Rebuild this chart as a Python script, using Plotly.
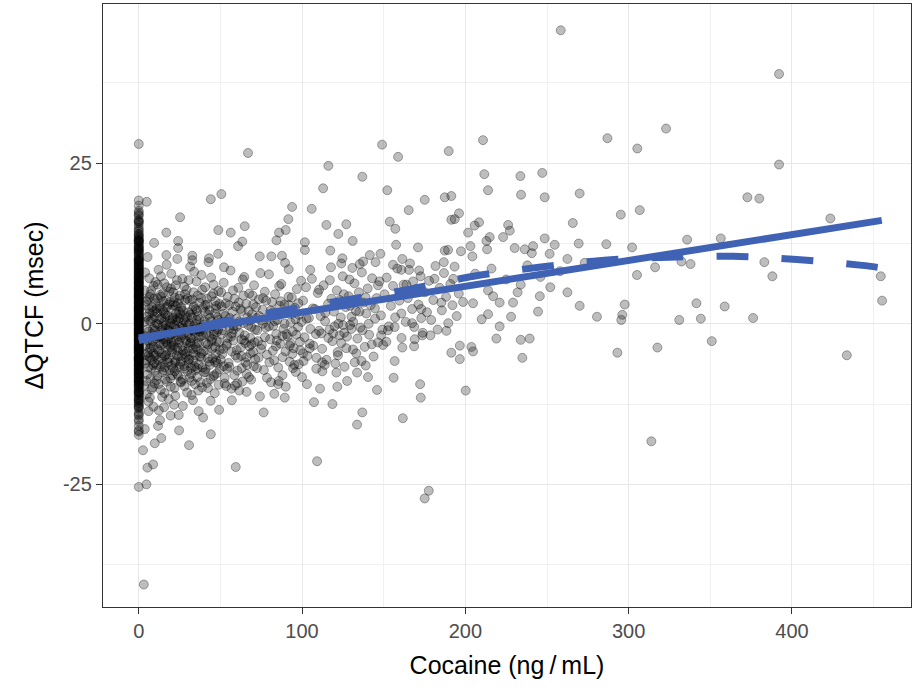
import plotly.graph_objects as go

# ---------------- data ----------------
# subjects with cocaine = 0 ng/mL : ΔQTCF values
zero_cocaine_dqtcf = [
    -17.3, -16.6, -15.9, -15.2, -14.9, -14.3, -13.8, -13.2, -12.9, -12.4, -12.0, -11.6, -11.1, -10.7,
    -10.3, -9.9, -9.6, -9.2, -8.8, -8.5, -8.1, -7.8, -7.4, -7.1, -6.7, -6.4, -6.0, -5.7, -5.3, -5.0,
    -4.6, -4.3, -3.9, -3.6, -3.2, -2.9, -2.5, -2.2, -1.8, -1.5, -1.1, -0.8, -0.4, -0.1, 0.3, 0.6,
    1.0, 1.3, 1.7, 2.0, 2.4, 2.7, 3.1, 3.4, 3.8, 4.1, 4.5, 4.8, 5.2, 5.5, 5.9, 6.2, 6.6, 6.9, 7.3,
    7.7, 8.1, 8.5, 8.9, 9.3, 9.8, 10.2, 10.7, 11.1, 11.6, 12.1, 12.7, 13.3, 13.9, 14.6, 15.3, 16.0,
    16.8, 17.6, 18.4,
    -14.1, -11.9, -10.1, -8.7, -7.6, -6.5, -5.5, -4.7, -3.8, -3.0, -2.3, -1.6, -0.9, -0.2, 0.5, 1.1,
    1.8, 2.5, 3.3, 4.0, 4.7, 5.6, 6.4, 7.2, 8.0, 9.0, 10.0, 11.2, 12.5, 14.0,
    -9.0, -6.9, -5.2, -3.5, -1.9, -0.6, 0.8, 2.2, 3.6, 5.0, 6.7, 8.6,
    -13.0, -12.3, -11.4, -10.5, -9.8, -9.1, -8.3, -7.7, -7.0, -6.3, -5.8, -5.1, -4.5, -3.9, -3.3,
    -2.7, -2.0, -1.4, -0.7, 0.0, 0.7, 1.4, 2.1, 2.9, 3.5, 4.3, 5.0, 5.8, 6.5, 7.4, 8.2, 9.1, 9.9,
    10.9, 11.8, 12.8, 13.7, 14.9, 16.2, 17.0,
    -12.7, -11.0, -9.4, -8.0, -6.6, -5.3, -4.1, -2.8, -1.2, 0.1, 1.5, 2.8, 4.2, 5.6, 7.0, 8.4, 9.6,
    11.5, 13.1, 15.7,
    -11.8, -10.8, -9.5, -8.4, -7.3, -6.2, -5.4, -4.4, -3.4, -2.4, -1.3, -0.3, 0.4, 1.2, 2.3, 3.2,
    4.4, 5.3, 6.3, 7.6, 8.8, 10.1, 11.4, 12.9, 14.4, 15.9, 17.3,
    -10.6, -8.9, -7.2, -5.6, -4.2, -2.6, -1.0, 0.9, 2.6, 4.6, 6.0, 7.9, 9.4, 10.5, 12.2, 13.5,
    -7.9, -5.9, -3.7, -1.7, 0.2, 1.9, 3.9, 5.4, 7.1, 9.7, 11.9, 13.0,
    28.0, 19.2, -16.8, -25.4,
]

# individually readable points (cocaine ng/mL, ΔQTCF msec)
sparse_points = [
    (66.9, 26.6), (116.1, 24.6), (136.9, 22.9), (112.9, 21.1), (50.6, 20.2), (44.1, 19.4),
    (4.9, 19.0), (93.9, 18.2), (105.9, 17.9), (25.3, 16.6), (16.9, 14.2), (48.7, 14.6), (56.3, 14.2),
    (64.9, 15.2), (114.9, 15.4), (127.1, 15.5), (122.2, 14.0), (131.0, 12.9), (91.6, 16.3), (90.0, 14.6),
    (85.9, 14.2), (84.3, 13.0), (24.1, 12.9), (24.1, 11.8), (9.4, 12.6), (63.4, 12.8), (60.8, 12.1),
    (101.7, 12.7), (101.7, 11.5), (117.3, 11.4), (48.6, 10.9), (16.9, 10.7), (32.8, 10.6), (32.8, 9.9),
    (43.0, 10.2), (23.6, 10.1), (74.1, 10.5), (81.2, 10.5), (87.7, 10.6), (89.6, 9.5), (124.7, 10.2),
    (137.4, 9.7), (135.3, 9.3), (141.5, 10.7), (52.2, 8.8), (130.8, 8.7),
    (258.4, 45.7), (149.0, 27.9), (158.8, 26.0), (189.8, 26.9), (210.8, 28.6), (287.0, 28.9),
    (305.3, 27.3), (211.6, 23.3), (233.7, 23.0), (247.1, 23.5), (152.2, 20.8), (213.9, 20.8),
    (234.1, 20.1), (248.6, 19.7), (270.0, 20.3), (175.1, 19.3), (187.4, 19.7), (191.4, 19.9),
    (165.3, 17.7), (153.7, 15.9), (157.1, 14.8), (196.1, 17.2), (193.5, 16.3), (191.4, 16.2),
    (295.2, 17.0), (306.8, 17.7), (265.8, 15.7), (208.4, 15.8), (205.7, 15.3), (201.7, 14.2),
    (226.2, 15.4), (227.2, 14.5), (223.1, 13.5), (214.9, 13.5), (212.9, 12.9), (213.3, 11.6),
    (157.6, 12.3), (171.0, 11.9), (187.4, 11.4), (189.4, 11.5), (203.1, 12.1), (204.3, 10.5),
    (230.2, 11.8), (236.4, 11.6), (241.5, 12.1), (240.7, 11.0), (248.6, 13.3), (254.7, 12.3),
    (251.6, 10.9), (269.4, 12.5), (286.3, 12.4), (302.1, 11.9), (262.5, 10.1), (273.1, 9.5),
    (305.1, 7.6), (186.8, 9.6), (181.1, 7.0), (192.6, 7.0), (171.7, 8.3), (161.4, 10.1), (165.5, 8.4),
    (160.8, 8.4), (155.7, 9.2), (148.0, 10.9), (245.6, 4.3), (262.5, 4.9), (233.9, 6.1), (213.9, 5.2),
    (217.0, 4.3), (297.6, 3.0), (270.0, 2.8), (229.2, 3.3), (221.0, 3.3), (204.7, 3.2), (185.3, 3.3),
    (163.9, 6.1), (168.0, 6.6),
    (392.1, 38.9), (322.9, 30.4), (392.1, 24.8), (372.7, 19.7), (380.0, 19.5), (423.5, 16.4),
    (335.8, 13.1), (356.4, 13.3), (332.3, 9.7), (337.9, 9.3), (316.2, 8.8), (383.1, 9.6), (388.0, 7.4),
    (454.4, 7.4), (455.2, 3.6), (341.5, 3.2), (358.8, 2.7),
    (331.0, 0.6), (344.2, 0.8), (376.2, 0.9), (317.6, -3.7), (350.9, -2.7), (433.6, -4.9), (313.9, -18.3),
    (280.6, 1.1), (295.5, 0.6), (296.1, 1.4), (293.1, -4.5), (244.5, 1.9), (213.9, 1.5), (219.0, -2.3),
    (233.9, -2.5), (239.4, -2.3), (234.9, -5.3), (196.6, -3.4), (191.4, -4.5), (196.6, -5.5),
    (203.7, -3.6), (204.7, -4.3), (188.4, -1.1), (178.6, -1.8), (173.7, -1.8), (169.0, -2.4),
    (168.6, -3.5), (161.4, -3.7), (167.4, 0.1), (173.0, 0.9), (173.0, 2.3), (160.8, 1.6), (156.7, -0.5),
    (152.6, -1.0), (151.6, -2.8), (149.6, -3.3), (156.7, -5.8), (156.1, -8.4), (145.9, -10.3),
    (172.3, -9.4), (172.7, -11.5), (200.2, -10.4), (161.7, -14.7), (177.6, -26.0), (175.1, -27.2),
    (3.1, -40.6), (4.7, -25.0), (5.3, -22.4), (8.8, -21.9), (59.4, -22.3), (109.2, -21.4),
    (2.6, -19.7), (9.8, -18.6), (13.8, -17.8), (30.8, -18.9), (24.7, -16.6), (44.1, -17.2), (3.7, -16.4),
    (11.8, -15.9), (39.4, -14.6), (36.7, -13.6), (49.2, -13.4), (76.5, -13.8), (107.3, -12.2),
    (118.6, -12.5), (133.7, -15.7), (136.9, -13.8), (46.5, -10.8), (33.2, -11.9), (53.6, -9.7),
    (60.2, -9.3), (89.4, -11.5), (85.3, -9.4), (121.6, -9.8), (121.0, -7.6), (133.7, -7.6),
    (140.4, -8.3), (132.3, -6.0), (136.4, -5.8), (100.0, -8.3), (94.5, -6.9), (92.5, -3.4),
    (112.4, -7.4), (113.9, -6.4), (108.8, -5.3), (122.0, -4.9), (127.1, -3.8), (123.1, -1.8),
    (130.2, -0.8), (125.1, -0.2), (111.8, -1.5), (119.0, -1.5), (100.6, -4.6), (104.7, -3.8),
    (6.0, -13.6), (9.0, -12.9), (15.5, -13.0), (19.5, -14.3), (27.0, -12.8), (13.0, -15.0),
]

# dense cloud at low concentrations
cloud_low = [
    (3.5, 5.2), (4.1, -3.4), (4.8, 1.1), (5.2, -7.9), (5.6, 3.8), (6.0, -1.2), (6.4, 7.1), (6.9, -5.3),
    (7.3, 0.4), (7.8, -10.2), (8.2, 2.6), (8.6, -2.7), (9.1, 5.9), (9.5, -6.1), (9.9, -0.3), (10.4, 3.2),
    (10.8, -8.8), (11.2, 1.7), (11.7, -4.0), (12.1, 8.4), (12.5, -1.9), (13.0, 4.5), (13.4, -6.7),
    (13.8, 0.9), (14.3, -11.4), (14.7, 2.1), (15.1, -3.1), (15.6, 6.3), (16.0, -5.0), (16.4, -0.8),
    (16.9, 3.6), (17.3, -9.0), (17.7, 1.3), (18.2, -2.2), (18.6, 5.0), (19.0, -7.2), (19.5, 0.1),
    (19.9, 7.8), (20.3, -4.4), (20.8, 2.9), (21.2, -1.4), (21.6, -12.6), (22.1, 4.1), (22.5, -5.8),
    (22.9, 0.6), (23.4, 6.8), (23.8, -3.7), (24.2, -8.1), (24.7, 1.9), (25.0, -0.5),
    (3.2, -9.6), (3.9, 8.0), (4.5, -5.7), (5.0, -0.9), (5.4, 10.4), (5.9, -12.1), (6.3, 2.3), (6.7, -3.9),
    (7.1, 4.6), (7.6, -7.0), (8.0, -1.6), (8.4, 0.8), (8.9, -4.6), (9.3, 2.0), (9.7, -9.3), (10.2, 6.5),
    (10.6, -2.3), (11.0, -6.4), (11.5, 4.0), (11.9, -0.1), (12.3, -13.5), (12.8, 2.7), (13.2, -3.3),
    (13.6, 7.4), (14.1, -1.0), (14.5, -7.6), (14.9, 4.8), (15.4, 0.3), (15.8, -10.8), (16.2, 1.5),
    (16.7, -4.8), (17.1, 9.2), (17.5, -2.5), (18.0, -6.0), (18.4, 3.0), (18.8, -0.4), (19.3, -8.5),
    (19.7, 5.5), (20.1, -2.9), (20.6, 0.7), (21.0, -6.9), (21.4, 3.4), (21.9, -10.0), (22.3, -0.7),
    (22.7, 6.0), (23.2, -4.9), (23.6, 1.0), (24.0, -2.0), (24.5, -14.2), (24.9, 3.9),
    (3.6, -1.9), (4.3, 2.9), (4.9, -11.0), (5.5, -4.5), (6.1, 0.6), (6.6, 4.2), (7.2, -8.5), (7.7, -2.0),
    (8.3, 1.8), (8.8, -6.4), (9.4, 3.9), (9.9, -1.0), (10.5, -4.9), (11.1, 0.0), (11.6, 6.1), (12.2, -9.4),
    (12.7, -3.0), (13.3, 2.4), (13.9, -5.3), (14.4, -0.5), (15.0, 3.5), (15.5, -7.2), (16.1, 1.0),
    (16.6, -2.8), (17.2, 5.7), (17.8, -4.1), (18.3, -11.7), (18.9, 0.5), (19.4, -3.6), (20.0, 2.2),
    (20.5, -8.0), (21.1, 4.9), (21.7, -0.2), (22.2, -6.0), (22.8, 1.6), (23.3, -2.6), (23.9, 3.2),
    (24.4, -5.1),
    (3.4, 0.3), (4.0, -6.2), (4.7, 3.5), (5.3, -2.6), (5.9, -5.0), (6.5, 1.6), (7.0, -3.1), (7.6, 5.2),
    (8.1, -5.6), (8.7, -0.8), (9.2, -3.6), (9.8, 1.1), (10.3, -7.3), (10.9, 2.4), (11.4, -1.7),
    (12.0, -5.7), (12.6, 0.7), (13.1, -2.0), (13.7, 4.2), (14.2, -4.6), (14.8, -1.3), (15.3, 1.8),
    (15.9, -6.8), (16.5, -0.2), (17.0, 2.6), (17.6, -3.2), (18.1, -0.9), (18.7, -5.4), (19.2, 3.4),
    (19.8, -1.6), (20.4, -4.0), (20.9, 0.9), (21.5, -2.8), (22.0, -7.4), (22.6, 2.8), (23.1, -0.9),
    (23.7, -4.2), (24.3, 0.4), (24.8, -6.7),
    (3.8, -4.8), (4.6, -8.9), (5.7, -6.8), (6.8, -11.5), (7.4, -3.7), (8.5, -9.9), (9.6, -5.0),
    (10.1, -1.9), (11.3, -8.1), (12.4, -4.3), (13.5, -10.3), (14.6, -6.2), (15.2, -2.4), (16.3, -8.6),
    (17.4, -5.6), (18.5, -1.1), (19.6, -9.8), (20.2, -6.5), (21.3, -3.4), (22.4, -11.2), (23.5, -7.8),
    (24.6, -2.9),
]

cloud_mid = [
    (25.4, -6.3), (25.8, 2.4), (26.3, -1.8), (26.7, 7.0), (27.1, -4.2), (27.6, 0.5), (28.0, -9.7),
    (28.4, 3.7), (28.9, -2.6), (29.3, 5.3), (29.7, -7.4), (30.2, -0.2), (30.6, 1.8), (31.0, -5.5),
    (31.5, 8.9), (31.9, -3.0), (32.3, -11.1), (32.8, 2.2), (33.2, -1.1), (33.6, 4.9), (34.1, -6.6),
    (34.5, 0.0), (34.9, -3.6), (35.4, 6.6), (35.8, -8.3), (36.2, 1.2), (36.7, -2.1), (37.1, 3.3),
    (37.5, -5.1), (38.0, -0.6), (38.4, 7.6), (38.8, -9.9), (39.3, 2.5), (39.7, -4.3), (40.1, 0.4),
    (40.6, 5.7), (41.0, -7.1), (41.4, -1.5), (41.9, 3.0), (42.3, -3.2), (42.7, 9.6), (43.2, -5.9),
    (43.6, 0.9), (44.0, -12.0), (44.5, 4.3), (44.9, -2.4), (45.3, -0.4), (45.8, 6.1), (46.2, -8.0),
    (46.6, 1.6), (47.1, -4.7), (47.5, 2.8), (47.9, -1.3), (48.4, -6.2), (48.8, 5.1), (49.2, -2.9),
    (49.7, 0.2),
    (25.2, 4.4), (26.0, -9.1), (26.9, -0.3), (27.8, 5.8), (28.6, -5.2), (29.5, 1.0), (30.4, -3.8),
    (31.3, 3.6), (32.1, -7.8), (33.0, -0.9), (33.9, 8.1), (34.7, -4.9), (35.6, 2.0), (36.5, -10.4),
    (37.3, -1.2), (38.2, 4.0), (39.0, -6.8), (39.9, -0.1), (40.8, 2.9), (41.7, -9.2), (42.5, 1.4),
    (43.4, -2.0), (44.3, 7.2), (45.1, -5.4), (46.0, -1.7), (46.9, 3.5), (47.7, -7.7), (48.6, 0.6),
    (49.5, -4.1),
    (25.0, 0.9), (25.6, -9.0), (26.1, 2.6), (26.7, -3.5), (27.2, -0.7), (27.8, -6.6), (28.3, 4.6),
    (28.9, 0.2), (29.4, -4.4), (30.0, -1.5), (30.6, 6.8), (31.1, -8.4), (31.7, 1.4), (32.2, -2.3),
    (32.8, 3.8), (33.3, -5.7), (33.9, -0.4), (34.4, -9.4), (35.0, 2.3), (35.6, -3.1), (36.1, 4.4),
    (36.7, -6.3), (37.2, 0.7), (37.8, -1.9), (38.3, -4.6), (38.9, 5.3), (39.4, -0.9), (40.0, -7.6),
    (40.6, 1.9), (41.1, -3.0), (41.7, 3.9), (42.2, -5.4), (42.8, -0.5), (43.3, 2.1), (43.9, -8.6),
    (44.4, 0.4), (45.0, -3.9), (45.6, 4.7), (46.1, -1.2), (46.7, -6.0), (47.2, 2.4), (47.8, -2.7),
    (48.3, 1.0), (48.9, -9.5), (49.4, 3.1),
    (25.4, 1.5), (26.0, -2.1), (26.5, -4.9), (27.1, 2.0), (27.6, -1.0), (28.2, -7.0), (28.7, 1.2),
    (29.3, -3.0), (29.8, 3.9), (30.4, -5.6), (31.0, 0.0), (31.5, -2.9), (32.1, -6.9), (32.6, 1.0),
    (33.2, -3.9), (33.7, 2.7), (34.3, -1.6), (34.8, -7.2), (35.4, 0.6), (36.0, -4.0), (36.5, -0.9),
    (25.7, -5.9), (26.8, -8.7), (27.4, -1.6), (28.5, -4.7), (29.6, -10.7), (30.7, -6.1), (31.8, -2.2),
    (32.4, -8.9), (33.5, -4.5), (34.6, -0.8), (35.7, -6.9), (36.8, -3.0), (37.9, -9.1), (38.5, -5.3),
    (39.6, -1.8), (40.7, -7.5), (41.8, -4.0), (42.4, -10.0), (43.5, -6.4), (44.6, -2.7), (45.7, -8.2),
    (46.8, -3.6), (47.4, -5.7), (48.5, -0.9), (49.6, -7.1),
]

cloud_high = [
    (50.2, -5.6), (50.8, 2.7), (51.4, -1.0), (52.0, 6.4), (52.6, -8.4), (53.2, 0.3), (53.8, -3.4),
    (54.4, 4.2), (55.0, -6.1), (55.6, -0.7), (56.2, 8.3), (56.8, -10.1), (57.4, 1.9), (58.0, -2.6),
    (58.6, 3.9), (59.2, -4.9), (59.8, 0.8), (60.4, -7.3), (61.0, 5.6), (61.6, -1.4), (62.2, 2.3),
    (62.8, -5.0), (63.4, -9.0), (64.0, 0.1), (64.6, 7.3), (65.2, -3.0), (65.8, 3.1), (66.4, -6.4),
    (67.0, -0.2), (67.6, 4.7), (68.2, -2.2), (68.8, -8.7), (69.4, 1.5), (70.0, -4.4), (70.6, 6.0),
    (71.2, -0.9), (71.8, 2.6), (72.4, -6.9), (73.0, -2.7), (73.6, 3.8), (74.2, -11.3), (74.8, 0.5),
    (50.5, 4.9), (51.7, -3.9), (52.9, 1.2), (54.1, -7.0), (55.3, 2.9), (56.5, -2.0), (57.7, 5.2),
    (58.9, -9.6), (60.1, -0.4), (61.3, 3.3), (62.5, -3.7), (63.7, 6.9), (64.9, -1.8), (66.1, -7.8),
    (67.3, 2.0), (68.5, -4.6), (69.7, 4.4), (70.9, -2.9), (72.1, 0.9), (73.3, -5.3), (74.5, 7.9),
    (50.9, -1.6), (52.1, -6.6), (53.3, 3.2), (54.5, -2.2), (55.7, 0.9), (56.9, -4.3), (58.1, -0.3),
    (59.3, 2.7), (60.5, -5.3), (61.7, 0.4), (62.9, -2.4), (64.1, 4.4), (65.3, -6.0), (66.5, 1.0),
    (67.7, -3.5), (68.9, -0.5), (70.1, 3.0), (71.3, -5.5), (72.5, -1.0), (73.7, 1.2), (74.9, -3.9),
    (57.0, -11.9), (66.0, -10.6),
    (51.1, -4.7), (52.6, -9.3), (54.0, -3.1), (55.5, -6.7), (57.0, -1.5), (58.5, -8.0), (60.0, -4.1),
    (61.5, -10.4), (63.0, -6.9), (64.5, -2.6), (66.0, -5.2), (67.5, -8.3), (69.0, -3.2), (70.5, -6.6),
    (52.0, 1.6), (58.0, -0.9), (63.0, 2.0), (68.0, 0.5),
    (75.3, -3.3), (75.9, 2.2), (76.6, -7.2), (77.2, 5.0), (77.8, -0.6), (78.5, -4.8), (79.1, 1.0),
    (79.7, 7.7), (80.4, -2.4), (81.0, -9.1), (81.6, 3.4), (82.3, -0.3), (82.9, -5.7), (83.5, 4.6),
    (84.2, -1.6), (84.8, 0.6), (85.4, -6.8), (86.1, 2.8), (86.7, -3.1), (87.3, 6.2), (88.0, -8.0),
    (88.6, -0.8), (89.2, 3.0), (89.9, -4.3), (90.5, 1.7), (91.1, -2.0), (91.8, 8.5), (92.4, -5.9),
    (93.0, 0.2), (93.7, 4.1), (94.3, -1.2), (94.9, -3.8), (95.6, 2.5), (96.2, -7.5), (96.8, 5.4),
    (97.5, -0.5), (98.1, 1.4), (98.7, -2.8), (99.4, 6.7),
    (76.0, 0.0), (78.0, 3.6), (80.0, -6.0), (82.0, 1.8), (84.0, -3.5), (86.0, 5.9), (88.0, -1.9),
    (90.0, -9.8), (92.0, 2.9), (94.0, -4.7), (96.0, 0.7), (98.0, -6.3),
    (76.1, 4.0), (77.3, -2.1), (78.5, -8.4), (79.7, -0.4), (80.9, 2.1), (82.1, -4.2), (83.3, 0.4),
    (84.5, -2.6), (85.7, -8.9), (86.9, 3.5), (88.1, -5.2), (89.3, 0.0), (90.5, -1.6), (91.7, 4.2),
    (92.9, -3.0), (94.1, 1.6), (95.3, -6.4), (96.5, -1.7), (97.7, 3.2), (98.9, -4.1), (99.7, 0.3),
    (83.0, -10.9),
    (100.6, 3.6), (101.5, -2.1), (102.4, 5.7), (103.3, -5.0), (104.2, 0.9), (105.1, -0.8), (106.0, 7.0),
    (106.9, -3.4), (107.8, 2.3), (108.7, -7.0), (109.6, 4.8), (110.5, -1.1), (111.4, 1.2), (112.3, -3.9),
    (113.2, 6.0), (114.1, 0.4), (115.0, -5.6), (115.9, 3.1), (116.8, -0.9), (117.7, 8.8), (118.6, -2.7),
    (119.5, 1.9), (120.4, -6.2), (121.3, 5.2), (122.2, 0.0), (123.1, 3.7), (124.0, -3.0), (124.9, 7.4),
    (125.8, -1.4), (126.7, 2.6), (127.6, -8.9), (128.5, 4.3), (129.4, -0.2), (130.3, 1.1), (131.2, -4.0),
    (132.1, 6.3), (133.0, 2.0), (133.9, -2.3), (134.8, 4.9), (135.7, -0.6), (136.6, 8.0), (137.5, 3.3),
    (138.4, -3.6), (139.3, 1.6), (140.2, 5.5), (141.1, -1.7), (142.0, 2.9), (142.9, 7.1), (143.8, -5.1),
    (144.7, 0.8), (145.6, 4.0), (146.5, -2.9), (147.4, 6.6), (148.3, 1.3), (149.2, -0.9),
    (100.9, -5.8), (102.8, 0.8), (104.7, -3.1), (106.6, 2.4), (108.5, -1.6), (110.4, 5.3), (112.3, -6.0),
    (114.2, 1.7), (116.1, -2.2), (118.0, 3.9), (119.9, -0.4), (121.8, -4.4), (123.7, 1.0), (125.6, 4.6),
    (127.5, -2.0), (129.4, 2.8), (131.3, 0.3), (133.2, -4.6), (135.1, 1.9), (137.0, -1.0), (138.9, 4.1),
    (140.8, 0.0), (142.7, -3.2), (144.6, 2.4), (146.5, 6.0), (148.4, -1.8), (103.0, -9.4), (111.0, -10.1),
    (126.0, -6.7), (139.0, -6.5), (117.0, 6.8), (129.0, 6.9), (105.0, 8.4), (124.0, 9.4), (145.0, 9.6),
    (150.5, 4.6), (151.8, 7.2), (153.1, -0.4), (154.4, 2.8), (155.7, 5.9), (157.0, 1.0), (158.3, 8.6),
    (159.6, 3.6), (160.9, -2.2), (162.2, 6.1), (163.5, 0.3), (164.8, 4.0), (166.1, 9.4), (167.4, 2.3),
    (168.7, -0.5), (170.0, 5.4), (171.3, 3.0), (172.6, 7.4), (173.9, -1.4), (175.2, 4.9), (176.5, 1.8),
    (177.8, 6.7), (179.1, 0.6), (180.4, 3.7), (181.7, 9.0), (183.0, -0.9), (184.3, 5.6), (185.6, 2.1),
    (186.9, 7.9), (188.2, 4.2), (189.5, 0.1), (190.8, 6.2), (192.1, 2.9), (193.4, 8.9), (194.7, 1.2),
    (196.0, 4.7), (197.3, 11.3), (198.6, 3.4),
    (206.0, 7.8), (216.0, 8.6), (225.0, 6.9), (238.0, 9.1), (246.0, 7.3), (252.0, 5.7), (258.0, 8.2),
    (232.0, 4.9), (221.0, -0.4), (210.0, 0.7), (228.0, 1.1),
]

# fitted lines
linear_fit_cocaine = [0, 455]
linear_fit_dqtcf = [-2.2, 16.1]
nonlinear_fit_cocaine = [0, 50, 100, 166, 205, 245, 285, 330, 364, 403, 443, 455]
nonlinear_fit_dqtcf = [-2.6, 0.3, 2.6, 5.4, 7.4, 8.8, 9.9, 10.4, 10.5, 10.0, 9.1, 8.7]

x_ticks = [0, 100, 200, 300, 400]
y_ticks = [-25, 0, 25]

# ---------------- figure ----------------
all_pts = [(0.0, v) for v in zero_cocaine_dqtcf] + sparse_points + cloud_low + cloud_mid + cloud_high
xs = [p[0] for p in all_pts]
ys = [p[1] for p in all_pts]

BLUE = "#4062B4"
FONT = "Liberation Sans, Arial, sans-serif"

fig = go.Figure()
fig.add_trace(go.Scatter(
    x=xs, y=ys, mode="markers",
    marker=dict(size=9, color="rgba(0,0,0,0.26)",
                line=dict(width=1, color="rgba(0,0,0,0.32)")),
    hoverinfo="skip", showlegend=False,
))
fig.add_trace(go.Scatter(
    x=linear_fit_cocaine, y=linear_fit_dqtcf, mode="lines",
    line=dict(color=BLUE, width=7), showlegend=False, hoverinfo="skip",
))
fig.add_trace(go.Scatter(
    x=nonlinear_fit_cocaine, y=nonlinear_fit_dqtcf, mode="lines",
    line=dict(color=BLUE, width=7, dash="32px,33px", shape="spline", smoothing=0.8),
    showlegend=False, hoverinfo="skip",
))

axis_common = dict(
    showline=True, mirror=True, linecolor="#333333", linewidth=1.3,
    ticks="outside", ticklen=6, tickwidth=1.2, tickcolor="#333333",
    tickfont=dict(family=FONT, size=20, color="#4D4D4D"),
    showgrid=True, gridcolor="#E8E8E8", gridwidth=1.4,
    zeroline=False,
)

fig.update_layout(
    width=914, height=694,
    margin=dict(l=103, r=3, t=4, b=87),
    paper_bgcolor="white", plot_bgcolor="white",
    font=dict(family=FONT),
    xaxis=dict(
        range=[-21.9, 472.9], tickmode="array", tickvals=x_ticks,
        ticktext=[str(v) for v in x_ticks],
        minor=dict(tickmode="array", tickvals=[50, 150, 250, 350, 450], showgrid=True,
                   gridcolor="#F0F0F0", gridwidth=1, ticks=""),
        title=dict(text="Cocaine (ng\u2009/\u2009mL)", font=dict(family=FONT, size=25, color="black"),
                   standoff=15),
        **axis_common,
    ),
    yaxis=dict(
        range=[-44.1, 49.8], tickmode="array", tickvals=y_ticks,
        ticktext=[str(v) for v in y_ticks],
        minor=dict(tickmode="array", tickvals=[-37.5, -12.5, 12.5, 37.5], showgrid=True,
                   gridcolor="#F0F0F0", gridwidth=1, ticks=""),
        title=dict(text="\u0394QTCF (msec)", font=dict(family=FONT, size=25, color="black"),
                   standoff=12),
        **axis_common,
    ),
)

fig.write_html("out.html")
